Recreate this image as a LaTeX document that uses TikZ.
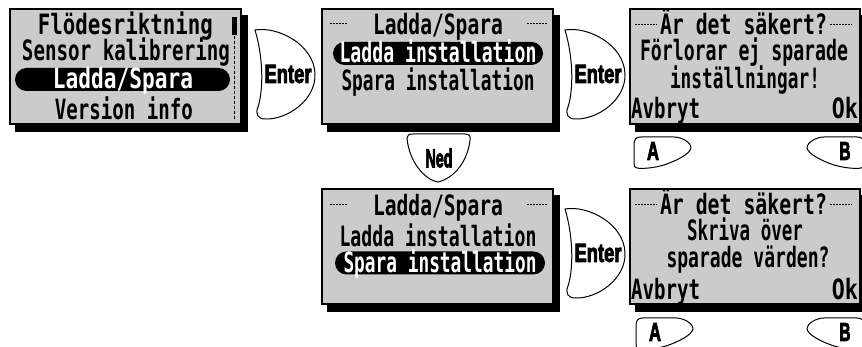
\documentclass[tikz,border=0pt]{standalone}
\usepackage{fontspec}
\usepackage{graphicx}
\newfontfamily\lcdfont{DejaVu Sans Mono}
\newfontfamily\btnfont[FakeBold=4]{Liberation Sans Bold}
\definecolor{lcdgray}{RGB}{203,203,203}
\newcommand\lcd[2]{\raisebox{0pt}[\height][0pt]{\resizebox{#1pt}{\height}{\lcdfont\bfseries\fontsize{28}{28}\selectfont #2}}}
\newcommand\btxt[2]{\resizebox{#1pt}{\height}{\btnfont\fontsize{26}{26}\selectfont #2}}
\tikzset{
  screenbox/.style={draw=black, line width=1.3pt, fill=lcdgray, inner sep=0pt},
  pillbox/.style={fill=black, rounded corners=11.5pt, inner sep=0pt, minimum height=23pt},
  lcdtxt/.style={inner sep=0pt, anchor=base},
  lcdwhite/.style={inner sep=0pt, anchor=base, text=white},
  btnshape/.style={draw=black, line width=1pt, fill=white},
  btntxt/.style={inner sep=0pt, anchor=center},
  titledash/.style={line width=1pt, dash pattern=on 2pt off 1pt},
}
\newcommand\lcdscreen[5]{%
  \fill[black] (#2+5,#3+6) rectangle (#4+7,#5+8);
  \node[screenbox, minimum width={#4-#2}, minimum height={#5-#3}] (#1) at ({(#2+#4)/2},{(#3+#5)/2}) {};
}
\newcommand\enterbtn[3]{%
  \begin{scope}[shift={(#2,#3)}]
    \draw[btnshape] (0,0) .. controls (22,-4) and (59,14) .. (60,44)
      .. controls (61,70) and (32,90) .. (10,89)
      .. controls (3,89) and (0,84) .. (3,77)
      .. controls (8,62) and (9,30) .. (0,0) -- cycle;
    \node[btntxt] (#1) at (33,44) {\btxt{47}{Enter}};
  \end{scope}
}
\newcommand\abtn[3]{%
  \begin{scope}[shift={(#2,#3)}]
    \draw[btnshape] (0,8) .. controls (0,2) and (2,0) .. (7,0) -- (40,0)
      .. controls (47,0) and (57,5) .. (57,11)
      .. controls (56,17) and (42,24) .. (30,28)
      .. controls (20,31) and (8,32) .. (3,31)
      .. controls (1,31) and (0,29) .. (0,27) -- cycle;
    \node[btntxt] (#1) at (19,14) {\btxt{12}{A}};
  \end{scope}
}
\newcommand\bbtn[3]{%
  \begin{scope}[shift={(#2,#3)}]
    \draw[btnshape] (0,8) .. controls (0,2) and (-2,0) .. (-7,0) -- (-40,0)
      .. controls (-47,0) and (-57,5) .. (-57,11)
      .. controls (-56,17) and (-42,24) .. (-30,28)
      .. controls (-20,31) and (-8,32) .. (-3,31)
      .. controls (-1,31) and (0,29) .. (0,27) -- cycle;
    \node[btntxt] (#1) at (-19,14) {\btxt{11}{B}};
  \end{scope}
}
\begin{document}
\begin{tikzpicture}[x=1pt,y=-1pt]
\useasboundingbox[fill=white] (0,0) rectangle (862,347);

% ---------- screen 1 ----------
\lcdscreen{s1}{10}{9}{241}{124}
\node[lcdtxt] (s1a) at (125.5,34.5) {\lcd{175}{Flödesriktning}};
\node[lcdtxt] (s1b) at (126,60.5) {\lcd{208}{Sensor kalibrering}};
\node[pillbox, minimum width=215pt] (s1p) at (122.5,79.5) {};
\node[lcdwhite] (s1c) at (123,89) {\lcd{140}{Ladda/Spara}};
\node[lcdtxt] (s1d) at (124,120) {\lcd{138}{Version info}};
\draw[line width=1pt, dash pattern=on 3pt off 2pt] (234,36) -- (234,121);
\fill[black] (232,17) rectangle (236.5,35);
\draw[line width=1.5pt] (197,69) -- (205,69);

% ---------- screen 2 ----------
\lcdscreen{s2}{322}{9}{553}{124}
\draw[titledash] (330,24) -- (347,24);
\draw[titledash] (527,24) -- (547,24);
\node[lcdtxt] (s2a) at (438,35) {\lcd{130}{Ladda/Spara}};
\node[pillbox, minimum width=210pt] (s2p) at (438,53.5) {};
\node[lcdwhite] (s2b) at (438,63) {\lcd{197}{Ladda installation}};
\node[lcdtxt] (s2c) at (438,91) {\lcd{193}{Spara installation}};

% ---------- screen 3 ----------
\lcdscreen{s3}{630}{9}{860}{124}
\draw[titledash] (635,25) -- (657,25);
\draw[titledash] (830,25) -- (852,25);
\node[lcdtxt] (s3a) at (743.5,34.5) {\lcd{167}{Är det säkert?}};
\node[lcdtxt] (s3b) at (744,61) {\lcd{208}{Förlorar ej sparade}};
\node[lcdtxt] (s3c) at (745,89) {\lcd{150}{inställningar!}};
\node[lcdtxt, anchor=base west] (s3d) at (631,119) {\lcd{69}{Avbryt}};
\node[lcdtxt, anchor=base east] (s3e) at (858,119) {\lcd{26}{Ok}};

% ---------- screen 4 ----------
\lcdscreen{s4}{322}{189}{553}{304}
\draw[titledash] (330,205) -- (347,205);
\draw[titledash] (527,205) -- (547,205);
\node[lcdtxt] (s4a) at (438,215.5) {\lcd{130}{Ladda/Spara}};
\node[lcdtxt] (s4b) at (438,247) {\lcd{197}{Ladda installation}};
\node[pillbox, minimum width=210pt] (s4p) at (440,263) {};
\node[lcdwhite] (s4c) at (440,273) {\lcd{193}{Spara installation}};

% ---------- screen 5 ----------
\lcdscreen{s5}{630}{189}{860}{304}
\draw[titledash] (635,205) -- (657,205);
\draw[titledash] (830,205) -- (852,205);
\node[lcdtxt] (s5a) at (743.5,214.5) {\lcd{167}{Är det säkert?}};
\node[lcdtxt] (s5b) at (745,241) {\lcd{116}{Skriva över}};
\node[lcdtxt] (s5c) at (748,268) {\lcd{163}{sparade värden?}};
\node[lcdtxt, anchor=base west] (s5d) at (631,300) {\lcd{69}{Avbryt}};
\node[lcdtxt, anchor=base east] (s5e) at (858,300) {\lcd{26}{Ok}};

% ---------- buttons ----------
\enterbtn{e1}{255}{30}
\enterbtn{e2}{565}{30}
\enterbtn{e3}{565}{209}

\draw[btnshape] (407,138) .. controls (407,135) and (409,134) .. (413,134)
  -- (465,134) .. controls (469,134) and (471,136) .. (470,140)
  .. controls (468,160) and (455,178) .. (438,182)
  .. controls (425,180) and (409,162) .. (407,138) -- cycle;
\node[btntxt] (ned) at (439,158) {\btxt{27}{Ned}};

\abtn{a1}{634}{137}
\bbtn{b1}{864}{137}
\abtn{a2}{636}{318}
\bbtn{b2}{864}{318}
\end{tikzpicture}
\end{document}
